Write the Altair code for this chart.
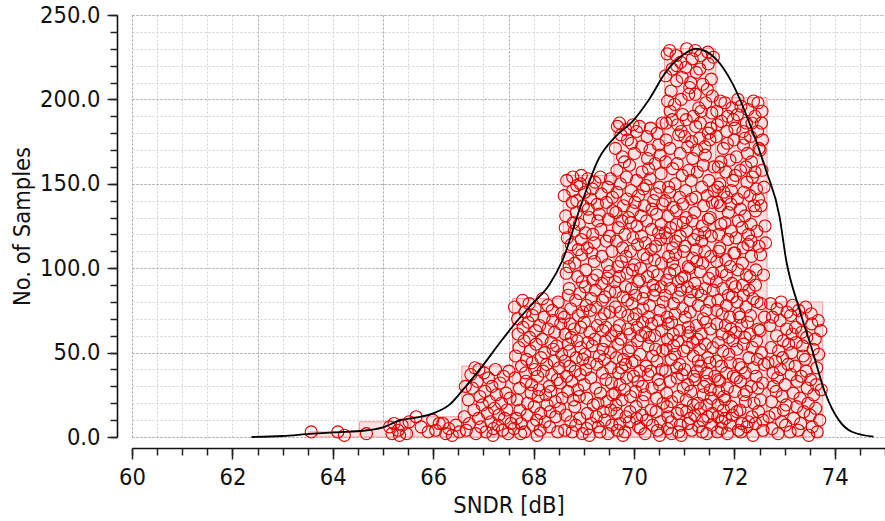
import altair as alt
import pandas as pd

# Histogram of SNDR over 1000 Monte-Carlo samples
BIN_EDGES = [63.51, 64.53, 65.55, 66.57, 67.58, 68.59, 69.60, 70.61, 71.63, 72.65, 73.76]
BIN_COUNTS = [3, 9, 12, 42, 82, 155, 186, 230, 201, 80]

# Kernel density estimate, scaled to counts
KDE_X = [62.38, 63.0, 63.54, 64.07, 64.6, 65.0, 65.33, 65.66, 66.0, 66.32, 66.65, 66.98,
         67.32, 67.65, 67.98, 68.31, 68.58, 68.94, 69.3, 69.63, 69.97, 70.3, 70.63, 70.96,
         71.23, 71.63, 71.96, 72.3, 72.63, 72.9, 73.03, 73.28, 73.55, 73.81, 74.08, 74.34, 74.77]
KDE_Y = [0, 0.6, 1.8, 2.8, 3.7, 5.7, 9.8, 11.5, 14, 19, 30, 42,
         55.5, 68, 79, 90, 105, 137, 165, 178, 187, 200, 216, 226,
         230, 224, 209.5, 186, 158, 130.5, 105, 77, 51.5, 26, 10, 3.1, 0.2]

# Individual samples: (SNDR in dB, stacking level inside its bin)
BIN_0_POINTS = [(63.57, 3), (64.10, 3), (64.23, 1)]
BIN_1_POINTS = [(64.67, 2), (65.13, 6), (65.22, 8), (65.30, 4), (65.38, 7), (65.47, 2),
                (65.18, 2), (65.33, 1), (65.52, 9)]
BIN_2_POINTS = [(65.66, 12), (65.76, 6), (65.90, 3), (65.99, 10), (66.05, 4), (66.12, 8),
                (66.19, 8), (66.25, 2), (66.31, 5), (66.38, 1), (66.45, 7), (66.52, 3)]
BIN_3_POINTS = [(66.83, 41), (66.75, 37), (66.62, 12), (66.66, 4), (66.70, 22), (66.72, 8),
                (66.78, 29), (66.81, 16), (66.85, 2), (66.88, 33), (66.90, 11), (66.93, 24),
                (66.95, 6), (66.98, 19), (67.01, 38), (67.03, 27), (67.05, 3), (67.08, 14),
                (67.10, 35), (67.12, 21), (67.15, 9), (67.17, 30), (67.19, 1), (67.22, 17),
                (67.24, 40), (67.26, 25), (67.29, 7), (67.31, 13), (67.33, 32), (67.36, 20),
                (67.38, 4), (67.40, 36), (67.42, 11), (67.45, 26), (67.47, 16), (67.49, 2),
                (67.51, 39), (67.53, 23), (67.55, 8), (66.64, 30), (66.91, 40), (67.20, 5)]
BIN_4_POINTS = [(67.61, 5), (67.64, 48), (67.62, 77), (67.67, 22), (67.69, 61), (67.63, 35),
                (67.66, 11), (67.68, 70), (67.71, 53), (67.74, 2), (67.72, 29), (67.78, 81),
                (67.76, 42), (67.73, 16), (67.79, 65), (67.75, 8), (67.81, 57), (67.85, 33),
                (67.83, 74), (67.88, 20), (67.86, 46), (67.82, 3), (67.89, 68), (67.84, 38),
                (67.87, 13), (67.92, 59), (67.95, 26), (67.91, 79), (67.97, 44), (67.99, 7),
                (67.93, 51), (67.96, 31), (67.98, 72), (68.01, 18), (68.04, 63), (68.02, 40),
                (68.07, 1), (68.05, 55), (68.09, 24), (68.03, 76), (68.08, 36), (68.06, 10),
                (68.12, 66), (68.15, 47), (68.11, 28), (68.18, 82), (68.14, 14), (68.17, 58),
                (68.19, 39), (68.13, 4), (68.21, 71), (68.24, 25), (68.22, 50), (68.27, 19),
                (68.29, 64), (68.23, 9), (68.26, 43), (68.28, 78), (68.31, 30), (68.35, 56),
                (68.33, 15), (68.38, 69), (68.36, 37), (68.32, 6), (68.39, 52), (68.34, 27),
                (68.37, 75), (68.41, 45), (68.44, 12), (68.42, 62), (68.47, 34), (68.49, 80),
                (68.43, 21), (68.46, 54), (68.48, 3), (68.51, 41), (68.54, 67), (68.52, 17),
                (68.56, 49), (68.53, 32), (68.55, 73), (68.57, 23)]
BIN_5_POINTS = [(68.62, 4), (68.65, 97), (68.61, 143), (68.68, 27), (68.63, 61), (68.67, 118),
                (68.64, 13), (68.69, 84), (68.66, 152), (68.62, 45), (68.68, 106), (68.61, 71),
                (68.64, 131), (68.66, 36), (68.69, 55), (68.63, 124),
                (68.71, 88), (68.74, 9), (68.77, 139), (68.72, 51), (68.79, 22), (68.75, 114),
                (68.73, 67), (68.78, 154), (68.76, 33), (68.71, 101), (68.74, 76), (68.79, 127),
                (68.72, 42), (68.77, 3), (68.75, 59), (68.78, 146),
                (68.82, 18), (68.85, 133), (68.81, 64), (68.88, 95), (68.84, 7), (68.86, 149),
                (68.83, 39), (68.89, 111), (68.87, 57), (68.81, 122), (68.84, 81), (68.88, 28),
                (68.85, 47), (68.82, 103), (68.89, 72), (68.86, 140),
                (68.91, 126), (68.94, 53), (68.92, 11), (68.97, 92), (68.95, 155), (68.93, 37),
                (68.98, 74), (68.96, 108), (68.91, 24), (68.99, 137), (68.94, 65), (68.97, 2),
                (68.92, 85), (68.95, 117), (68.98, 46), (68.93, 150),
                (69.01, 31), (69.04, 99), (69.02, 145), (69.07, 14), (69.05, 78), (69.03, 121),
                (69.08, 56), (69.06, 5), (69.09, 135), (69.01, 68), (69.04, 40), (69.07, 112),
                (69.03, 89), (69.08, 153), (69.06, 23), (69.02, 49),
                (69.12, 62), (69.15, 8), (69.11, 130), (69.18, 93), (69.14, 35), (69.17, 147),
                (69.13, 75), (69.19, 19), (69.16, 109), (69.12, 44), (69.18, 120), (69.15, 82),
                (69.11, 1), (69.17, 54), (69.14, 141),
                (69.21, 104), (69.24, 29), (69.22, 151), (69.27, 66), (69.25, 12), (69.23, 87),
                (69.28, 128), (69.26, 43), (69.29, 6), (69.21, 115), (69.24, 77), (69.27, 138),
                (69.22, 58), (69.28, 20), (69.26, 96),
                (69.31, 48), (69.34, 123), (69.32, 3), (69.37, 81), (69.35, 144), (69.33, 26),
                (69.38, 63), (69.36, 107), (69.39, 15), (69.31, 132), (69.34, 70), (69.37, 38),
                (69.33, 154), (69.36, 91), (69.38, 52),
                (69.42, 10), (69.45, 116), (69.41, 73), (69.48, 148), (69.44, 34), (69.47, 94),
                (69.43, 57), (69.49, 129), (69.46, 21), (69.42, 83), (69.48, 2), (69.45, 139),
                (69.41, 46), (69.47, 102), (69.44, 65),
                (69.51, 119), (69.54, 41), (69.52, 86), (69.56, 7), (69.53, 153), (69.55, 60),
                (69.57, 25), (69.51, 98), (69.58, 134), (69.54, 16), (69.52, 74), (69.56, 110),
                (69.53, 50), (69.57, 142), (69.55, 32)]
BIN_6_POINTS = [(69.63, 171), (69.66, 14), (69.62, 92), (69.68, 55), (69.64, 133), (69.67, 4),
                (69.65, 116), (69.69, 38), (69.63, 77), (69.66, 158), (69.62, 26), (69.68, 101),
                (69.64, 63), (69.67, 184), (69.65, 47), (69.69, 124), (69.63, 86), (69.66, 145),
                (69.64, 19),
                (69.71, 66), (69.74, 179), (69.72, 8), (69.77, 112), (69.75, 41), (69.73, 150),
                (69.78, 83), (69.76, 22), (69.79, 137), (69.71, 95), (69.74, 58), (69.77, 166),
                (69.72, 31), (69.75, 104), (69.78, 1), (69.73, 74), (69.76, 128), (69.79, 46),
                (69.71, 186),
                (69.82, 120), (69.85, 35), (69.81, 163), (69.88, 72), (69.84, 12), (69.86, 141),
                (69.83, 89), (69.89, 51), (69.87, 176), (69.81, 28), (69.84, 107), (69.88, 64),
                (69.85, 154), (69.82, 3), (69.86, 97), (69.89, 130), (69.83, 43), (69.87, 81),
                (69.84, 182),
                (69.91, 9), (69.94, 146), (69.92, 61), (69.97, 99), (69.95, 174), (69.93, 24),
                (69.98, 118), (69.96, 79), (69.99, 36), (69.91, 161), (69.94, 53), (69.97, 134),
                (69.92, 15), (69.95, 88), (69.98, 185), (69.93, 110), (69.96, 44), (69.99, 70),
                (69.94, 127),
                (70.01, 102), (70.04, 18), (70.02, 139), (70.07, 57), (70.05, 181), (70.03, 84),
                (70.08, 33), (70.06, 125), (70.09, 6), (70.01, 168), (70.04, 73), (70.07, 114),
                (70.02, 45), (70.05, 152), (70.08, 92), (70.03, 27), (70.06, 65), (70.09, 143),
                (70.05, 11),
                (70.12, 49), (70.15, 172), (70.11, 93), (70.18, 21), (70.14, 131), (70.17, 68),
                (70.13, 5), (70.19, 108), (70.16, 157), (70.12, 39), (70.18, 82), (70.15, 119),
                (70.11, 184), (70.17, 30), (70.14, 60), (70.19, 147), (70.13, 100), (70.16, 13),
                (70.18, 76),
                (70.21, 137), (70.24, 42), (70.22, 86), (70.27, 165), (70.25, 10), (70.23, 115),
                (70.28, 54), (70.26, 178), (70.29, 71), (70.21, 25), (70.24, 149), (70.27, 95),
                (70.22, 2), (70.25, 128), (70.28, 37), (70.23, 62), (70.26, 106), (70.29, 159),
                (70.31, 78), (70.34, 16), (70.32, 153), (70.37, 48), (70.35, 123), (70.33, 183),
                (70.38, 90), (70.36, 29), (70.39, 140), (70.31, 59), (70.34, 111), (70.37, 7),
                (70.32, 170), (70.35, 67), (70.38, 98), (70.33, 39), (70.36, 135), (70.39, 84),
                (70.42, 162), (70.45, 23), (70.41, 105), (70.48, 69), (70.44, 144), (70.47, 4),
                (70.43, 52), (70.49, 121), (70.46, 180), (70.42, 87), (70.48, 34), (70.45, 132),
                (70.41, 60), (70.47, 96), (70.44, 15), (70.49, 173), (70.43, 113), (70.46, 45),
                (70.51, 31), (70.54, 126), (70.52, 75), (70.56, 186), (70.53, 9), (70.55, 103),
                (70.57, 51), (70.51, 148), (70.58, 20), (70.54, 89), (70.52, 167), (70.56, 40),
                (70.53, 117), (70.55, 63), (70.57, 138), (70.51, 1), (70.58, 80), (70.54, 156)]
BIN_7_POINTS = [(70.63, 214), (70.66, 18), (70.62, 121), (70.68, 67), (70.64, 176), (70.67, 5),
                (70.65, 93), (70.69, 148), (70.63, 39), (70.66, 227), (70.62, 84), (70.68, 131),
                (70.64, 52), (70.67, 199), (70.65, 26), (70.69, 107), (70.63, 163), (70.66, 71),
                (70.64, 186), (70.68, 12), (70.62, 140), (70.67, 58), (70.65, 118),
                (70.71, 97), (70.74, 205), (70.72, 33), (70.77, 159), (70.75, 2), (70.73, 124),
                (70.78, 61), (70.76, 188), (70.79, 79), (70.71, 229), (70.74, 46), (70.77, 112),
                (70.72, 171), (70.75, 21), (70.78, 136), (70.73, 88), (70.76, 218), (70.79, 54),
                (70.71, 145), (70.74, 9), (70.77, 103), (70.72, 193), (70.75, 68),
                (70.82, 150), (70.85, 41), (70.81, 197), (70.88, 83), (70.84, 226), (70.86, 14),
                (70.83, 116), (70.89, 179), (70.87, 57), (70.81, 99), (70.84, 134), (70.88, 24),
                (70.85, 211), (70.82, 73), (70.86, 162), (70.89, 3), (70.83, 108), (70.87, 185),
                (70.81, 49), (70.84, 126), (70.88, 92), (70.85, 220), (70.86, 35),
                (70.91, 63), (70.94, 181), (70.92, 7), (70.97, 138), (70.95, 94), (70.93, 222),
                (70.98, 29), (70.96, 155), (70.99, 110), (70.91, 43), (70.94, 200), (70.97, 76),
                (70.92, 168), (70.95, 16), (70.98, 127), (70.93, 87), (70.96, 213), (70.99, 51),
                (70.91, 142), (70.94, 1), (70.97, 191), (70.92, 119), (70.96, 37),
                (71.01, 178), (71.04, 22), (71.02, 113), (71.07, 60), (71.05, 230), (71.03, 146),
                (71.08, 8), (71.06, 89), (71.09, 203), (71.01, 40), (71.04, 130), (71.07, 172),
                (71.02, 71), (71.05, 15), (71.08, 101), (71.03, 219), (71.06, 53), (71.09, 158),
                (71.01, 95), (71.04, 188), (71.07, 31), (71.05, 122), (71.08, 65),
                (71.12, 11), (71.15, 141), (71.11, 207), (71.18, 48), (71.14, 86), (71.17, 165),
                (71.13, 27), (71.19, 117), (71.16, 224), (71.12, 74), (71.18, 190), (71.15, 4),
                (71.11, 100), (71.17, 56), (71.14, 152), (71.19, 36), (71.13, 210), (71.16, 128),
                (71.12, 81), (71.18, 19), (71.15, 175), (71.11, 62), (71.17, 106),
                (71.21, 133), (71.24, 66), (71.22, 229), (71.27, 20), (71.25, 104), (71.23, 184),
                (71.28, 45), (71.26, 157), (71.29, 6), (71.21, 91), (71.24, 216), (71.27, 120),
                (71.22, 34), (71.25, 170), (71.28, 78), (71.23, 142), (71.26, 58), (71.29, 195),
                (71.21, 13), (71.24, 111), (71.27, 86), (71.22, 203), (71.26, 39),
                (71.31, 52), (71.34, 193), (71.32, 98), (71.37, 10), (71.35, 148), (71.33, 226),
                (71.38, 70), (71.36, 125), (71.39, 30), (71.31, 177), (71.34, 84), (71.37, 209),
                (71.32, 17), (71.35, 116), (71.38, 161), (71.33, 42), (71.36, 3), (71.39, 137),
                (71.31, 218), (71.34, 61), (71.37, 103), (71.32, 186), (71.38, 25),
                (71.42, 167), (71.45, 38), (71.41, 121), (71.48, 221), (71.44, 75), (71.47, 12),
                (71.43, 198), (71.49, 94), (71.46, 143), (71.42, 55), (71.48, 180), (71.45, 2),
                (71.41, 110), (71.47, 228), (71.44, 33), (71.49, 152), (71.43, 68), (71.46, 206),
                (71.42, 88), (71.48, 129), (71.45, 19), (71.41, 172), (71.47, 47),
                (71.51, 80), (71.54, 212), (71.52, 28), (71.56, 139), (71.53, 183), (71.55, 7),
                (71.57, 97), (71.59, 160), (71.51, 44), (71.54, 119), (71.58, 225), (71.52, 64),
                (71.56, 14), (71.53, 107), (71.55, 192), (71.57, 53), (71.60, 146), (71.51, 176),
                (71.54, 23), (71.58, 87), (71.52, 130), (71.56, 202), (71.61, 36)]
BIN_8_POINTS = [(71.65, 104), (71.67, 12), (71.64, 178), (71.68, 56), (71.66, 139), (71.69, 27),
                (71.65, 193), (71.67, 81), (71.64, 45), (71.68, 160), (71.66, 3), (71.69, 120),
                (71.65, 67), (71.67, 148), (71.64, 92), (71.68, 34), (71.66, 185), (71.69, 110),
                (71.67, 19), (71.65, 75),
                (71.71, 150), (71.74, 42), (71.72, 199), (71.77, 88), (71.75, 9), (71.73, 126),
                (71.78, 171), (71.76, 61), (71.79, 24), (71.71, 112), (71.74, 187), (71.77, 51),
                (71.72, 137), (71.75, 98), (71.78, 16), (71.73, 163), (71.76, 73), (71.79, 145),
                (71.71, 33), (71.74, 5),
                (71.82, 66), (71.85, 181), (71.81, 22), (71.88, 133), (71.84, 96), (71.86, 2),
                (71.83, 157), (71.89, 49), (71.87, 117), (71.81, 198), (71.84, 38), (71.88, 84),
                (71.85, 142), (71.82, 11), (71.86, 174), (71.83, 105), (71.89, 59), (71.87, 190),
                (71.81, 127), (71.84, 78), (71.86, 29),
                (71.91, 164), (71.94, 18), (71.92, 101), (71.97, 57), (71.95, 195), (71.93, 138),
                (71.98, 36), (71.96, 83), (71.99, 176), (71.91, 7), (71.94, 122), (71.97, 152),
                (71.92, 44), (71.95, 91), (71.98, 188), (71.93, 64), (71.96, 13), (71.99, 109),
                (71.91, 71), (71.94, 146),
                (72.01, 27), (72.04, 166), (72.02, 89), (72.07, 200), (72.05, 52), (72.03, 118),
                (72.08, 4), (72.06, 141), (72.09, 73), (72.01, 183), (72.04, 35), (72.07, 99),
                (72.02, 155), (72.05, 15), (72.08, 128), (72.03, 62), (72.06, 191), (72.09, 43),
                (72.01, 109), (72.05, 80),
                (72.12, 135), (72.15, 8), (72.11, 71), (72.18, 173), (72.14, 41), (72.17, 112),
                (72.13, 196), (72.19, 25), (72.16, 90), (72.12, 158), (72.18, 55), (72.15, 124),
                (72.11, 16), (72.17, 181), (72.14, 66), (72.19, 145), (72.13, 3), (72.16, 103),
                (72.12, 33), (72.18, 84),
                (72.21, 59), (72.24, 186), (72.22, 21), (72.27, 114), (72.25, 151), (72.23, 77),
                (72.28, 9), (72.26, 168), (72.29, 47), (72.21, 131), (72.24, 96), (72.27, 194),
                (72.22, 38), (72.25, 6), (72.28, 120), (72.23, 160), (72.26, 68), (72.29, 87),
                (72.21, 177), (72.24, 27),
                (72.31, 143), (72.34, 30), (72.32, 178), (72.37, 82), (72.35, 12), (72.33, 116),
                (72.38, 199), (72.36, 53), (72.39, 137), (72.31, 95), (72.34, 163), (72.37, 1),
                (72.32, 72), (72.35, 186), (72.38, 41), (72.33, 126), (72.36, 154), (72.39, 20),
                (72.31, 61), (72.34, 107),
                (72.42, 8), (72.45, 122), (72.41, 190), (72.48, 64), (72.44, 147), (72.47, 29),
                (72.43, 99), (72.49, 171), (72.46, 46), (72.42, 134), (72.48, 15), (72.45, 80),
                (72.41, 157), (72.47, 198), (72.44, 57), (72.49, 113), (72.43, 36), (72.46, 181),
                (72.42, 90), (72.48, 141),
                (72.51, 170), (72.54, 50), (72.52, 108), (72.57, 10), (72.55, 193), (72.53, 79),
                (72.59, 148), (72.56, 32), (72.61, 125), (72.51, 63), (72.54, 186), (72.58, 96),
                (72.52, 22), (72.55, 158), (72.60, 71), (72.53, 137), (72.57, 4), (72.62, 115),
                (72.56, 176), (72.59, 43)]
BIN_9_POINTS = [(72.67, 44), (72.69, 12),
                (72.71, 66), (72.74, 21), (72.72, 79), (72.77, 38), (72.75, 5), (72.73, 53),
                (72.78, 30), (72.76, 71),
                (72.81, 14), (72.84, 60), (72.82, 45), (72.87, 2), (72.85, 76), (72.83, 27),
                (72.88, 51), (72.86, 35),
                (72.91, 69), (72.94, 9), (72.92, 40), (72.97, 57), (72.95, 24), (72.93, 80),
                (72.98, 16), (72.96, 47),
                (73.01, 31), (73.04, 64), (73.02, 7), (73.07, 43), (73.05, 74), (73.03, 19),
                (73.08, 55),
                (73.11, 3), (73.14, 50), (73.12, 72), (73.17, 26), (73.15, 61), (73.13, 37),
                (73.18, 11), (73.16, 78),
                (73.21, 42), (73.24, 18), (73.22, 65), (73.27, 4), (73.25, 33), (73.23, 56),
                (73.28, 75),
                (73.31, 23), (73.34, 62), (73.32, 8), (73.37, 48), (73.35, 70), (73.33, 36),
                (73.38, 15), (73.36, 54),
                (73.42, 77), (73.45, 29), (73.41, 46), (73.48, 1), (73.44, 59), (73.47, 20),
                (73.43, 39),
                (73.51, 13), (73.54, 67), (73.52, 34), (73.57, 52), (73.55, 6), (73.53, 73),
                (73.58, 25),
                (73.61, 58), (73.64, 41), (73.62, 17), (73.67, 69), (73.65, 3), (73.63, 31),
                (73.68, 49),
                (73.70, 10), (73.72, 63), (73.73, 28)]

ALL_POINTS = (BIN_0_POINTS + BIN_1_POINTS + BIN_2_POINTS + BIN_3_POINTS + BIN_4_POINTS
              + BIN_5_POINTS + BIN_6_POINTS + BIN_7_POINTS + BIN_8_POINTS + BIN_9_POINTS)

bins_df = pd.DataFrame({
    "lo": BIN_EDGES[:-1],
    "hi": BIN_EDGES[1:],
    "count": BIN_COUNTS,
    "base": [0] * len(BIN_COUNTS),
})
samples_df = pd.DataFrame(ALL_POINTS, columns=["sndr", "level"])
kde_df = pd.DataFrame({"x": KDE_X, "y": KDE_Y})

FONT = "DejaVu Sans Condensed, DejaVu Sans"
FS = 23.5
MINOR_GRID = "#d4d4d4"
MAJOR_GRID = "#a6a6a6"

x_scale = alt.Scale(domain=[60, 75], nice=False, zero=False)
y_scale = alt.Scale(domain=[0, 250], nice=False, zero=False)

x_minor_vals = [60 + 0.5 * i for i in range(31)]
x_label_vals = [60 + 2 * i for i in range(8)]
x_major_grid_vals = [60 + 2.5 * i for i in range(7)]
y_minor_vals = [10 * i for i in range(26)]
y_major_vals = [50 * i for i in range(6)]

# minor ticks + light grid
x_minor_axis = alt.Axis(orient="bottom", values=x_minor_vals, offset=11, title="",
                        labels=False, tickSize=7, tickColor="#222222", tickWidth=1.5,
                        domain=True, domainColor="#111111", domainWidth=1.6,
                        grid=True, gridColor=MINOR_GRID, gridDash=[2, 2], gridWidth=1,
                        zindex=0)
y_minor_axis = alt.Axis(orient="left", values=y_minor_vals, offset=15, title="",
                        labels=False, tickSize=7, tickColor="#222222", tickWidth=1.5,
                        domain=True, domainColor="#111111", domainWidth=1.6,
                        grid=True, gridColor=MINOR_GRID, gridDash=[2, 2], gridWidth=1,
                        zindex=0)
# labelled major ticks
x_label_axis = alt.Axis(orient="bottom", values=x_label_vals, offset=11, title="SNDR [dB]",
                        format="d", labelFont=FONT, labelFontSize=FS, labelColor="#111111",
                        labelPadding=6, labelFlush=False, labelOverlap=False,
                        tickSize=11, tickColor="#222222", tickWidth=1.5,
                        domain=False, grid=False, titleFont=FONT, titleFontSize=FS,
                        titleFontWeight="normal", titleColor="#111111", titlePadding=5,
                        zindex=1)
y_label_axis = alt.Axis(orient="left", values=y_major_vals, offset=15, title="No. of Samples",
                        format=".1f", labelFont=FONT, labelFontSize=FS, labelColor="#111111",
                        labelPadding=7, labelFlush=False, labelOverlap=False,
                        tickSize=10, tickColor="#222222", tickWidth=1.5,
                        domain=False, grid=False, titleFont=FONT, titleFontSize=FS,
                        titleFontWeight="normal", titleColor="#111111", titlePadding=5,
                        zindex=1)
# darker major grid
x_grid_axis = alt.Axis(orient="bottom", values=x_major_grid_vals, offset=11, title="",
                       labels=False, ticks=False, domain=False,
                       grid=True, gridColor=MAJOR_GRID, gridDash=[2, 2], gridWidth=1,
                       zindex=0)
y_grid_axis = alt.Axis(orient="left", values=y_major_vals, offset=15, title="",
                       labels=False, ticks=False, domain=False,
                       grid=True, gridColor=MAJOR_GRID, gridDash=[2, 2], gridWidth=1,
                       zindex=0)

bars = alt.Chart(bins_df).mark_rect(
    fill="#fbe2e2", stroke="#f29a9a", strokeWidth=1
).encode(
    x=alt.X("lo:Q", scale=x_scale, axis=x_minor_axis),
    x2="hi:Q",
    y=alt.Y("count:Q", scale=y_scale, axis=y_minor_axis),
    y2="base:Q",
)

samples = alt.Chart(samples_df).mark_point(
    shape="circle", filled=False, size=145, strokeWidth=1.1, color="#e00000", opacity=1
).encode(
    x=alt.X("sndr:Q", scale=x_scale, axis=x_label_axis),
    y=alt.Y("level:Q", scale=y_scale, axis=y_label_axis),
)

kde = alt.Chart(kde_df).mark_line(
    color="#000000", strokeWidth=1.8, interpolate="monotone"
).encode(
    x=alt.X("x:Q", scale=x_scale, axis=x_grid_axis),
    y=alt.Y("y:Q", scale=y_scale, axis=y_grid_axis),
)

chart = alt.layer(bars, samples, kde).resolve_axis(
    x="independent", y="independent"
).properties(
    width=753,
    height=422,
    padding={"left": 132, "top": 15, "right": 0, "bottom": 84},
    autosize=alt.AutoSizeParams(type="none"),
    background="white",
).configure_view(stroke="transparent")

chart.save("out.html", embed_options={"renderer": "svg", "actions": False})
